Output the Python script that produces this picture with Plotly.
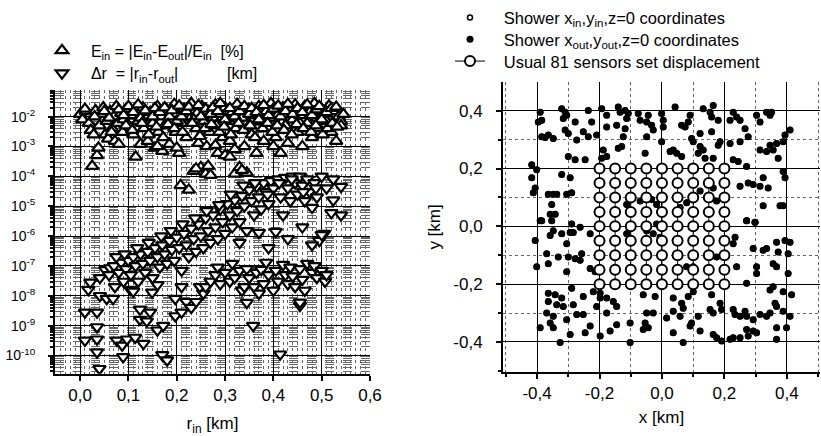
import plotly.graph_objects as go

# ---------------- Left panel data ----------------
E_r = [0.000, 0.005, 0.012, 0.018, 0.022, 0.025, 0.028, 0.032, 0.035, 0.038, 0.040, 0.045, 0.048, 0.052, 0.055,
       0.058, 0.062, 0.066, 0.070, 0.072, 0.075, 0.078, 0.080, 0.085, 0.088, 0.090, 0.095, 0.100, 0.105, 0.110,
       0.115, 0.118, 0.120, 0.125, 0.130, 0.132, 0.138, 0.140, 0.145, 0.150, 0.155, 0.160, 0.162, 0.168, 0.170,
       0.175, 0.180, 0.185, 0.190, 0.195, 0.198, 0.200, 0.205, 0.208, 0.210, 0.215, 0.220, 0.225, 0.228, 0.230,
       0.235, 0.240, 0.242, 0.245, 0.250, 0.252, 0.255, 0.260, 0.262, 0.265, 0.268, 0.270, 0.275, 0.280, 0.282,
       0.285, 0.290, 0.295, 0.300, 0.305, 0.308, 0.310, 0.315, 0.320, 0.322, 0.325, 0.330, 0.335, 0.340, 0.345,
       0.348, 0.350, 0.355, 0.360, 0.365, 0.370, 0.375, 0.380, 0.385, 0.390, 0.395, 0.400, 0.405, 0.410, 0.415,
       0.420, 0.425, 0.430, 0.435, 0.440, 0.445, 0.450, 0.455, 0.460, 0.465, 0.470, 0.475, 0.480, 0.485, 0.490,
       0.495, 0.500, 0.505, 0.510, 0.515, 0.520, 0.525, 0.530, 0.535, 0.540,
       0.010, 0.030, 0.050, 0.060, 0.080, 0.090, 0.100, 0.110, 0.120, 0.125, 0.135, 0.150, 0.155, 0.165, 0.175,
       0.185, 0.190, 0.200, 0.205, 0.210, 0.220, 0.225, 0.235, 0.245, 0.250, 0.260, 0.270, 0.275, 0.285, 0.290,
       0.300, 0.310, 0.320, 0.330, 0.340, 0.350, 0.355, 0.365, 0.370, 0.380, 0.390, 0.400, 0.410, 0.415, 0.425,
       0.430, 0.440, 0.450, 0.455, 0.460, 0.470, 0.480, 0.490, 0.495, 0.500, 0.510, 0.520, 0.530, 0.545, 0.540,
       0.300, 0.310, 0.240, 0.265, 0.335,
       0.065, 0.095, 0.108, 0.128, 0.142, 0.158, 0.172, 0.182, 0.195, 0.212, 0.232, 0.248, 0.258, 0.272, 0.288,
       0.298, 0.312, 0.328, 0.338, 0.352, 0.362, 0.378, 0.388, 0.398, 0.408, 0.422, 0.438, 0.448, 0.462, 0.478,
       0.488, 0.502, 0.512, 0.522, 0.532, 0.160, 0.200, 0.280, 0.320, 0.400]
E_val = [1.2e-2, 8e-3, 1.5e-2, 6e-3, 3.5e-3, 2.2e-4, 2.5e-3, 1.6e-2, 5e-4, 9e-4, 5e-3, 1.2e-2, 2e-2, 2.5e-3, 7e-3,
         1.8e-3, 1.5e-2, 4e-3, 1e-2, 1.5e-3, 2.2e-2, 6e-3, 1.2e-3, 1.3e-2, 3e-3, 8e-3, 1.8e-2, 5e-3, 1.1e-2, 2.5e-3,
         4.5e-4, 1.6e-2, 7e-3, 1.2e-3, 2e-2, 4e-3, 9e-3, 1.5e-3, 1.4e-2, 6e-3, 9e-4, 2.2e-2, 3e-3, 1e-2, 7e-4,
         5e-3, 1.6e-2, 1.2e-3, 8e-3, 2.6e-2, 3e-3, 1.2e-2, 6e-4, 5e-5, 6e-3, 1.8e-2, 2e-3, 3.5e-5, 9e-3, 2.8e-2,
         1.5e-4, 4e-3, 1.3e-2, 1.3e-3, 2e-4, 2.2e-2, 7e-3, 1.2e-4, 1e-3, 1.5e-2, 3e-3, 1.1e-4, 9e-3, 2.5e-2, 5e-3,
         6e-4, 1.2e-2, 2e-3, 2e-2, 5e-4, 7e-3, 1.5e-3, 1.4e-2, 1.2e-4, 4e-3, 2.6e-2, 2e-4, 9e-3, 1e-3, 1.3e-4,
         1.8e-2, 5e-3, 2.5e-3, 1.1e-2, 6e-4, 2.2e-2, 7e-3, 1.5e-3, 1.5e-2, 4e-3, 2.8e-2, 9e-3, 2e-3, 1.2e-2, 6e-4,
         2e-2, 5e-3, 1.3e-3, 1.6e-2, 8e-3, 2.5e-2, 3e-3, 1.1e-2, 1e-3, 2.2e-2, 6e-3, 1.4e-2, 2e-3, 2.8e-2, 9e-3,
         4e-3, 1.8e-2, 1.3e-2, 7e-3, 2.3e-2, 3e-3, 1.5e-2, 1.5e-3, 1e-2, 7e-3,
         1.8e-2, 1e-2, 1.5e-2, 9e-3, 1.7e-2, 1.1e-2, 2.2e-2, 1.4e-2, 2.5e-2, 9e-3, 1.6e-2, 1e-2, 1.9e-2, 1.4e-2, 2e-2,
         1e-2, 1.6e-2, 7e-3, 2.3e-2, 1e-2, 1.5e-2, 2.1e-2, 8e-3, 2.4e-2, 1e-2, 1.8e-2, 1.2e-2, 2e-2, 1.5e-2, 2.8e-2,
         8e-3, 1.9e-2, 1e-2, 1.5e-2, 2.2e-2, 1.2e-2, 1.9e-2, 1.4e-2, 8e-3, 2.4e-2, 1.1e-2, 1.8e-2, 2.3e-2, 1e-2, 1.5e-2,
         2.6e-2, 1.2e-2, 1.9e-2, 6e-3, 1.4e-2, 2.5e-2, 1.1e-2, 1.7e-2, 2.2e-2, 8e-3, 1.4e-2, 1.9e-2, 2.1e-2, 1.2e-2, 5e-3,
         5e-4, 4.5e-4, 1.8e-4, 2.2e-4, 1.6e-4,
         3e-3, 5e-3, 3.5e-3, 6e-3, 2.5e-3, 4.5e-3, 2e-3, 5.5e-3, 4e-3, 3e-3, 6e-3, 2.2e-3, 4e-3, 5.5e-3, 3e-3,
         4.5e-3, 2.5e-3, 6e-3, 3.5e-3, 5e-3, 2e-3, 4e-3, 6e-3, 3e-3, 5e-3, 3.5e-3, 2.5e-3, 5.5e-3, 4e-3, 3e-3,
         5e-3, 2.5e-3, 4e-3, 6e-3, 4.5e-3, 1e-3, 9e-4, 1.1e-3, 8e-4, 1e-3]

dR_r = [0.010, 0.017, 0.021, 0.010, 0.035, 0.035, 0.040, 0.035, 0.035, 0.041, 0.055, 0.068, 0.072, 0.041, 0.052,
        0.062, 0.076, 0.087, 0.089, 0.097, 0.114, 0.131, 0.104, 0.110, 0.124, 0.124, 0.138, 0.145, 0.149, 0.160,
        0.172, 0.160, 0.170, 0.180, 0.197, 0.197, 0.210, 0.210, 0.220, 0.230, 0.240, 0.255, 0.248, 0.345, 0.358,
        0.414, 0.455, 0.455,
        0.060, 0.070, 0.080, 0.085, 0.090, 0.095, 0.100, 0.105, 0.110, 0.115, 0.120, 0.125, 0.130, 0.135, 0.140,
        0.145, 0.150, 0.155, 0.160, 0.165, 0.170, 0.175, 0.180, 0.185, 0.190, 0.195, 0.200, 0.205, 0.210, 0.215,
        0.220, 0.225, 0.230, 0.235, 0.240, 0.245, 0.250, 0.255, 0.260, 0.265, 0.270, 0.275, 0.280, 0.285, 0.290,
        0.295, 0.300, 0.305, 0.310, 0.315, 0.320, 0.325, 0.330, 0.335, 0.340, 0.345, 0.350, 0.355, 0.360, 0.365,
        0.370, 0.375, 0.380, 0.385, 0.390, 0.395, 0.400, 0.405, 0.410, 0.415, 0.420, 0.425, 0.430, 0.435, 0.440,
        0.445, 0.450, 0.455, 0.460, 0.465, 0.470, 0.475, 0.480, 0.485, 0.490, 0.495, 0.500, 0.505, 0.510, 0.524,
        0.540, 0.540, 0.524, 0.520,
        0.330, 0.370, 0.390, 0.430, 0.460, 0.480, 0.500,
        0.260, 0.270, 0.280, 0.285, 0.290, 0.300, 0.310, 0.315, 0.320, 0.330, 0.335, 0.340, 0.345, 0.350, 0.360,
        0.365, 0.370, 0.375, 0.380, 0.385, 0.390, 0.400, 0.405, 0.410, 0.420, 0.425, 0.430, 0.435, 0.440, 0.445,
        0.455, 0.460, 0.465, 0.470, 0.480, 0.485, 0.490, 0.500, 0.507, 0.510,
        0.075, 0.092, 0.118, 0.142, 0.168, 0.188, 0.212, 0.238, 0.262, 0.288, 0.312, 0.338, 0.362, 0.388, 0.412,
        0.438, 0.462, 0.488]
dR_val = [2.8e-9, 1.6e-8, 2.8e-8, 3.2e-10, 3.5e-10, 1.3e-10, 3.6e-11, 9e-10, 2.8e-9, 1e-8, 8e-9, 8e-9, 2e-8, 4e-8, 7.4e-8,
          8.5e-8, 3.2e-10, 2.2e-10, 9e-11, 3.5e-10, 4e-10, 2.5e-10, 1.6e-8, 1.4e-8, 3.5e-9, 1.6e-9, 1.4e-9, 2.8e-9, 1.3e-8, 7e-10,
          1e-9, 2.3e-8, 1.05e-10, 7e-11, 2.1e-9, 8e-9, 2.8e-9, 2e-8, 6.3e-9, 4e-9, 6.3e-9, 1.2e-8, 2e-8, 5.9e-9, 1e-9,
          1.1e-10, 4.7e-9, 6e-9,
          5e-8, 1e-7, 6e-8, 1.3e-7, 3e-8, 8e-8, 1.5e-7, 5e-8, 2e-7, 1e-7, 3e-8, 2.5e-7, 1.2e-7, 6e-8, 3e-7,
          1.5e-7, 4e-8, 4e-7, 2e-7, 9e-8, 5e-7, 2.5e-7, 1.2e-7, 7e-7, 3.5e-7, 1.5e-7, 9e-7, 4e-7, 7e-8, 1.2e-6,
          5e-7, 2e-7, 1.8e-6, 8e-7, 3e-7, 2.5e-6, 1e-6, 4e-7, 4e-6, 1.5e-6, 6e-7, 5e-6, 2e-6, 8e-7, 8e-6,
          3e-6, 1.2e-6, 1.2e-5, 5e-6, 2e-6, 1.6e-5, 7e-6, 3e-6, 2.2e-5, 1e-5, 1.5e-6, 3.5e-5, 1.5e-5, 5e-6, 4.5e-5,
          2e-5, 8e-6, 6e-5, 3e-5, 1.2e-5, 7e-5, 4e-5, 1.4e-6, 8e-5, 2e-5, 5e-6, 9e-5, 4e-5, 1.5e-5, 1e-4,
          6e-5, 2.5e-5, 1e-4, 5e-5, 1.5e-5, 8e-5, 3e-5, 9e-6, 6e-5, 2e-5, 7e-7, 1e-4, 1.2e-6, 4e-5, 1.6e-5,
          5e-6, 4.5e-5, 8e-5, 6e-6,
          6e-7, 1.3e-6, 4e-7, 8e-7, 2e-6, 5e-7, 1.1e-6,
          2e-8, 3e-8, 5e-8, 9e-8, 2.5e-8, 6e-8, 3e-8, 1.2e-7, 4e-8, 7e-8, 1.5e-8, 2e-8, 8e-8, 4e-8, 2e-8,
          6e-8, 1.2e-8, 7.5e-8, 2.5e-8, 1.3e-7, 5e-8, 1.5e-8, 7e-8, 3e-8, 1.1e-7, 5e-8, 2.5e-8, 9e-8, 4.5e-8, 2e-8,
          8e-8, 3.5e-8, 1.5e-8, 1.2e-7, 6e-8, 1e-7, 4e-8, 7e-8, 3e-8, 5e-8,
          2e-7, 2.5e-7, 4e-7, 6e-7, 1e-6, 1.5e-6, 2.5e-6, 4e-6, 7e-6, 1.1e-5, 2.5e-5, 5e-5, 6e-5, 2.5e-5,
          6e-5, 8e-5, 3e-5, 4e-5]

left_xtick_vals = [0.0, 0.1, 0.2, 0.3, 0.4, 0.5, 0.6]
left_xtick_text = ["0,0", "0,1", "0,2", "0,3", "0,4", "0,5", "0,6"]
left_ytick_vals = [1e-10, 1e-9, 1e-8, 1e-7, 1e-6, 1e-5, 1e-4, 1e-3, 1e-2]
left_ytick_text = ["10<sup>-10</sup>", "10<sup>-9</sup>", "10<sup>-8</sup>", "10<sup>-7</sup>", "10<sup>-6</sup>",
                   "10<sup>-5</sup>", "10<sup>-4</sup>", "10<sup>-3</sup>", "10<sup>-2</sup>"]

# ---------------- Right panel data ----------------
out_x = [-0.390, -0.385, -0.396, -0.321, -0.310, -0.316, -0.305, -0.278, -0.236, -0.225, -0.193, -0.177, -0.140, -0.134,
         -0.118, -0.108, -0.113, -0.177, -0.145, -0.118, -0.076, -0.070, -0.044, -0.049, -0.033, -0.028, -0.001, 0.004,
         0.042, 0.090, 0.084, 0.063, 0.074, 0.132, 0.154, 0.164, 0.159, 0.180, 0.122, 0.159, 0.228, 0.239, 0.250, 0.218,
         0.266, 0.276, 0.303, 0.314, 0.335, 0.351, 0.346, -0.385, -0.364, -0.348, -0.374, -0.310, -0.300, -0.252, -0.236,
         -0.273, -0.209, -0.124, -0.129, -0.140, -0.188, -0.177, -0.049, -0.054, 0.004, -0.001, 0.026, 0.036, 0.047,
         0.063, 0.095, 0.100, 0.122, 0.132, 0.116, 0.138, 0.164, 0.180, 0.186, 0.218, 0.228, 0.244, 0.250, 0.314, 0.335,
         0.346, 0.356, 0.367, 0.372, 0.388, 0.394, 0.410, -0.300, -0.278, -0.246, -0.193, -0.417, -0.401, -0.417, -0.406,
         -0.412, -0.364, -0.348, -0.337, -0.353, -0.358, -0.342, -0.385, -0.321, -0.294, -0.289, -0.305, -0.289, 0.271,
         0.250, 0.276, 0.292, 0.324, 0.314, 0.340, 0.324, 0.388, 0.394, 0.378, 0.388, 0.271, 0.298, -0.113, -0.070,
         -0.049, -0.033, -0.017, 0.058, 0.079, 0.122, 0.164, 0.175,
         -0.390, -0.353, -0.348, -0.358, -0.321, -0.294, -0.284, -0.262, -0.230, -0.406, -0.369, -0.401, -0.364, -0.332,
         -0.305, -0.300, -0.278, -0.257, -0.262, -0.305, -0.230, -0.214, 0.271, 0.298, 0.234, 0.228, 0.292, 0.324, 0.335,
         0.367, 0.394, 0.410, 0.404, 0.372, 0.356, 0.367, 0.303, 0.239, 0.303, 0.271, 0.404, -0.364, -0.342, -0.321,
         -0.289, -0.364, -0.337, -0.316, -0.284, -0.252, -0.198, -0.220, -0.198, -0.209, -0.177, -0.156, -0.145, -0.177,
         -0.369, -0.348, -0.305, -0.273, -0.252, -0.358, -0.348, -0.294, -0.326, -0.390, -0.230, -0.246, -0.198, -0.166,
         -0.145, -0.102, -0.102, -0.060, -0.022, -0.049, -0.028, -0.054, -0.044, -0.060, 0.036, 0.063, 0.068, 0.084,
         0.100, 0.036, 0.015, 0.058, 0.095, 0.036, 0.068, 0.090, 0.159, 0.186, 0.154, 0.164, 0.191, 0.228, 0.234, 0.250,
         0.266, 0.271, 0.292, 0.314, 0.335, 0.346, 0.362, 0.367, 0.388, 0.410, 0.415, 0.388, 0.346, 0.356, 0.367, 0.399,
         0.271, 0.292, 0.276, 0.303, 0.250, 0.228, 0.218, 0.191, 0.164, 0.175, 0.367, 0.122, 0.116,
         -0.049, -0.028, -0.006, 0.079, 0.100, -0.113, -0.017, 0.175]
out_y = [0.395, 0.367, 0.361, 0.407, 0.395, 0.373, 0.384, 0.361, 0.401, 0.361, 0.407, 0.384, 0.413, 0.395,
         0.401, 0.390, 0.373, 0.344, 0.350, 0.338, 0.390, 0.367, 0.384, 0.361, 0.350, 0.333, 0.390, 0.367,
         0.413, 0.384, 0.361, 0.350, 0.344, 0.407, 0.395, 0.418, 0.378, 0.367, 0.321, 0.327, 0.395, 0.378, 0.367, 0.367,
         0.338, 0.310, 0.384, 0.361, 0.395, 0.395, 0.384, 0.310, 0.316, 0.304, 0.307, 0.333, 0.321, 0.327, 0.310,
         0.299, 0.316, 0.310, 0.276, 0.270, 0.264, 0.242, 0.310, 0.253, 0.344, 0.293, 0.259, 0.264, 0.253,
         0.242, 0.304, 0.293, 0.276, 0.264, 0.253, 0.236, 0.236, 0.281, 0.293, 0.287, 0.230, 0.224, 0.293, 0.264, 0.259,
         0.281, 0.264, 0.287, 0.236, 0.293, 0.316, 0.333, 0.242, 0.230, 0.230, 0.236, 0.213, 0.196, 0.168, 0.133,
         0.116, 0.111, 0.111, 0.111, 0.076, 0.042, 0.042, 0.019, 0.179, 0.168, 0.116, 0.111, 0.008, 0.207,
         0.139, 0.150, 0.145, 0.168, 0.139, 0.133, 0.071, 0.190, 0.168, 0.071, 0.071, 0.019, 0.014, 0.076, 0.088,
         0.099, 0.093, 0.076, 0.065, 0.082, 0.122, 0.133, 0.088,
         0.019, 0.019, -0.015, -0.032, -0.026, -0.021, -0.021, -0.003, -0.026, -0.049, -0.095, -0.140, -0.129, -0.106,
         -0.060, -0.106, -0.112, -0.095, -0.117, -0.157, -0.146, -0.157, 0.019, 0.014, -0.038, -0.060, -0.077, -0.083, -0.077,
         -0.055, -0.049, -0.055, -0.095, -0.089, -0.129, -0.140, -0.140, -0.140, -0.163, -0.197, -0.163, -0.231, -0.237, -0.248,
         -0.214, -0.260, -0.271, -0.277, -0.271, -0.243, -0.231, -0.226, -0.248, -0.277, -0.248, -0.260, -0.277, -0.300,
         -0.300, -0.311, -0.323, -0.305, -0.305, -0.334, -0.351, -0.374, -0.402, -0.351, -0.345, -0.368, -0.379, -0.362,
         -0.340, -0.334, -0.402, -0.237, -0.243, -0.300, -0.300, -0.334, -0.351, -0.357, -0.248, -0.266, -0.283, -0.243,
         -0.226, -0.294, -0.317, -0.311, -0.334, -0.368, -0.402, -0.345, -0.237, -0.266, -0.288, -0.300, -0.288, -0.288, -0.305, -0.311,
         -0.294, -0.311, -0.323, -0.305, -0.311, -0.300, -0.266, -0.277, -0.294, -0.311, -0.237, -0.226, -0.220, -0.209, -0.351, -0.351,
         -0.357, -0.362, -0.379, -0.368, -0.385, -0.385, -0.391, -0.397, -0.374, -0.385, -0.391, -0.362, -0.311,
         -0.015, -0.026, -0.038, -0.140, -0.140, -0.026, 0.008, -0.106]

# shower impact points before reconstruction (hidden beneath the reconstructed ones)
in_x = out_x
in_y = out_y

sensor_cols = [-0.20, -0.15, -0.10, -0.05, 0.00, 0.05, 0.10, 0.15, 0.20]
sensor_rows = [0.20, 0.15, 0.10, 0.05, 0.00, -0.05, -0.10, -0.15, -0.20]

right_tick_vals = [-0.4, -0.2, 0.0, 0.2, 0.4]
right_tick_text = ["-0,4", "-0,2", "0,0", "0,2", "0,4"]

# ---------------- Figure ----------------
W, H = 821, 436
FONT = "Liberation Sans, Arial, sans-serif"
NB = "&nbsp;"

fig = go.Figure()

fig.add_trace(go.Scatter(
    x=E_r, y=E_val, mode="markers", xaxis="x", yaxis="y", legend="legend",
    name=NB * 2 + "E<sub>in</sub> = |E<sub>in</sub>-E<sub>out</sub>|/E<sub>in</sub>" + NB * 2 + "[%]",
    marker=dict(symbol="triangle-up", size=11, color="white", line=dict(color="black", width=2.2))))
fig.add_trace(go.Scatter(
    x=dR_r, y=dR_val, mode="markers", xaxis="x", yaxis="y", legend="legend2",
    name=NB * 2 + "Δr" + NB * 2 + "= |r<sub>in</sub>-r<sub>out</sub>|" + NB * 11 + "[km]",
    marker=dict(symbol="triangle-down", size=11, color="white", line=dict(color="black", width=2.2))))

fig.add_trace(go.Scatter(
    x=in_x, y=in_y, mode="markers", xaxis="x2", yaxis="y2", legend="legend3",
    name=NB * 3 + "Shower x<sub>in</sub>,y<sub>in</sub>,z=0 coordinates",
    marker=dict(symbol="circle-open", size=5, color="black", line=dict(width=1.5))))
fig.add_trace(go.Scatter(
    x=out_x, y=out_y, mode="markers", xaxis="x2", yaxis="y2", legend="legend4",
    name=NB * 3 + "Shower x<sub>out</sub>,y<sub>out</sub>,z=0 coordinates",
    marker=dict(symbol="circle", size=7, color="black")))

sx, sy = [], []
for c in sensor_cols:
    for r in sensor_rows:
        sx.append(c)
        sy.append(r)
    sx.append(None)
    sy.append(None)
fig.add_trace(go.Scatter(
    x=sx, y=sy, mode="lines+markers", xaxis="x2", yaxis="y2", legend="legend5",
    name=NB * 3 + "Usual 81 sensors set displacement",
    line=dict(color="black", width=1),
    marker=dict(symbol="circle", size=10, color="white", line=dict(color="black", width=2))))

axis_common = dict(showline=True, linecolor="black", linewidth=2, ticks="outside", tickcolor="black",
                   tickwidth=1.5, ticklen=5, zeroline=False, color="black", automargin=False)


def one_legend(x_px, yc_px, size):
    return dict(x=x_px / W, y=1 - yc_px / H, xanchor="left", yanchor="middle", bgcolor="rgba(0,0,0,0)",
                borderwidth=0, font=dict(family=FONT, size=size, color="black"))


fig.update_layout(
    template="none",
    width=W, height=H, autosize=False, margin=dict(l=0, r=0, t=0, b=0, pad=0),
    paper_bgcolor="white", plot_bgcolor="white",
    font=dict(family=FONT, size=15, color="black"),
    showlegend=True,
    xaxis=dict(domain=[55 / W, 370 / W], range=[-0.052, 0.6], anchor="y",
               tickmode="array", tickvals=left_xtick_vals, ticktext=left_xtick_text,
               tickfont=dict(family=FONT, size=17, color="black"),
               showgrid=True, gridcolor="black", gridwidth=1.2,
               minor=dict(tickmode="linear", tick0=0, dtick=0.01, showgrid=True, gridcolor="#666",
                          griddash="dot", gridwidth=1),
               title=dict(text="r<sub>in</sub> [km]", font=dict(family=FONT, size=17), standoff=18),
               **axis_common),
    yaxis=dict(domain=[1 - 373 / H, 1 - 86 / H], type="log", range=[-10.61, -1.11], anchor="x",
               tickmode="array", tickvals=left_ytick_vals, ticktext=left_ytick_text,
               tickfont=dict(family=FONT, size=14, color="black"), ticklabelstandoff=10,
               showgrid=True, gridcolor="black", gridwidth=1.2,
               minor=dict(dtick="D1", ticks="outside", ticklen=3, tickcolor="black", showgrid=True,
                          gridcolor="#666", griddash="dash", gridwidth=1),
               **axis_common),
    xaxis2=dict(domain=[503 / W, 820 / W], range=[-0.509, 0.506], anchor="y2",
                tickmode="array", tickvals=right_tick_vals, ticktext=right_tick_text,
                tickfont=dict(family=FONT, size=17, color="black"),
                showgrid=True, gridcolor="black", gridwidth=1.2,
                minor=dict(tickmode="linear", tick0=0, dtick=0.1, ticks="outside", ticklen=3, tickcolor="black",
                           showgrid=True, gridcolor="#666", griddash="dot", gridwidth=1),
                title=dict(text="x [km]", font=dict(family=FONT, size=17), standoff=9),
                **axis_common),
    yaxis2=dict(domain=[1 - 371 / H, 1 - 78 / H], range=[-0.503, 0.499], anchor="x2",
                tickmode="array", tickvals=right_tick_vals, ticktext=right_tick_text,
                tickfont=dict(family=FONT, size=17, color="black"), ticklabelstandoff=10,
                showgrid=True, gridcolor="black", gridwidth=1.2,
                minor=dict(tickmode="linear", tick0=0, dtick=0.1, ticks="outside", ticklen=3, tickcolor="black",
                           showgrid=True, gridcolor="#666", griddash="dot", gridwidth=1),
                title=dict(text="y [km]", font=dict(family=FONT, size=17), standoff=8),
                **axis_common),
    legend=one_legend(42, 46, 16),
    legend2=one_legend(42, 69, 16),
    legend3=one_legend(450, 13, 16.5),
    legend4=one_legend(450, 35, 16.5),
    legend5=one_legend(450, 57, 16.5),
)

fig.write_html("out.html", config={"responsive": False, "displayModeBar": False},
               post_script="document.body.style.margin='0px';document.body.style.overflow='hidden';")
